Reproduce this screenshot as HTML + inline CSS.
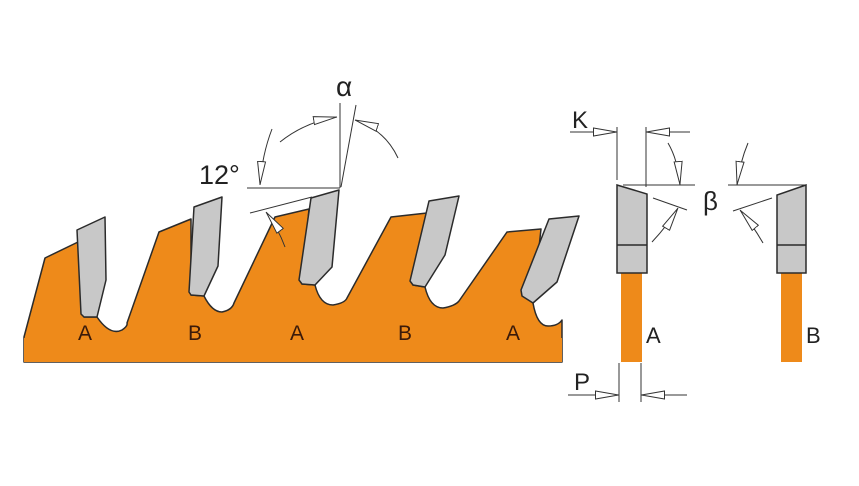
<!DOCTYPE html>
<html><head><meta charset="utf-8"><style>
html,body{margin:0;padding:0;background:#fff;}
svg{display:block;}
text{font-family:"Liberation Sans",sans-serif;}
</style></head><body>
<svg width="859" height="486" viewBox="0 0 859 486" xmlns="http://www.w3.org/2000/svg">
<defs>
<marker id="ar" markerUnits="userSpaceOnUse" viewBox="0 0 24 10" refX="24" refY="5" markerWidth="24" markerHeight="10" orient="auto">
<path d="M0.5,1 L23.5,5 L0.5,9 Z" fill="#fff" stroke="#333" stroke-width="1"/>
</marker>
</defs>
<path d="M24,362 L24,337 L45,258 L78,242
 L84,317 L97,317
 Q110,336 122,330 Q128,326 127,323
 L159,232 L191,219
 L191,295 L204,296
 Q212,312 222,312 Q232,310 234,303
 L275,217 L309,209
 L302,284 L315,285
 Q320,305 333,305 Q345,303 347,298
 L391,217 L427,213
 L413,285 L425,287
 Q430,308 443,308 Q455,306 459,301
 L507,232 L541,229
 L533,303
 Q537,326 548,326 Q558,326 562,320
 L562,362 Z" fill="#ee8a1a" stroke="#2b2b2b" stroke-width="1.5" stroke-linejoin="round"/>
<rect x="24" y="338" width="538" height="24" fill="#ee8a1a"/>
<g fill="#c8c8c8" stroke="#2b2b2b" stroke-width="1.5" stroke-linejoin="round">
<path d="M77,230 L105,217 L106,280 L97,317 L84,317 L81,314 Z"/>
<path d="M194,207 L222,197 L218,266 L204,296 L191,295 L189,292 Z"/>
<path d="M311,198 L339,190 L332,267 L315,285 L302,284 L299,280 Z"/>
<path d="M429,201 L459,196 L445,255 L425,287 L413,285 L410,281 Z"/>
<path d="M549,219 L579,216 L557,282 L533,303 L522,296 L521,290 Z"/>
</g>
<g font-size="21" fill="#3a1a0a" text-anchor="middle">
<text x="85" y="340">A</text><text x="195" y="340">B</text><text x="297" y="340">A</text><text x="405" y="340">B</text><text x="513" y="340">A</text>
</g>
<g stroke="#333" stroke-width="1" fill="none">
<line x1="340" y1="103" x2="340" y2="188"/>
<line x1="356" y1="105" x2="341" y2="187"/>
<line x1="247" y1="188" x2="340" y2="188"/>
<line x1="250" y1="213" x2="312" y2="197"/>
<path d="M272,129 Q262,155 260,185" marker-end="url(#ar)"/>
<path d="M280,142 Q305,122 337,117" marker-end="url(#ar)"/>
<path d="M398,158 Q385,130 355,120" marker-end="url(#ar)"/>
<path d="M285,247 Q278,228 266,212" marker-end="url(#ar)"/>
<line x1="570" y1="132" x2="617" y2="132" marker-end="url(#ar)"/>
<line x1="690" y1="132" x2="646" y2="132" marker-end="url(#ar)"/>
<line x1="617" y1="127" x2="617" y2="180"/>
<line x1="646" y1="127" x2="646" y2="187"/>
<line x1="623" y1="185" x2="695" y2="185"/>
<line x1="653" y1="198" x2="687" y2="210"/>
<path d="M668,143 Q678,160 680,185" marker-end="url(#ar)"/>
<path d="M652,242 Q668,225 678,208" marker-end="url(#ar)"/>
<line x1="728" y1="185" x2="806" y2="185"/>
<line x1="772" y1="198" x2="733" y2="211"/>
<path d="M748,143 Q740,162 737,185" marker-end="url(#ar)"/>
<path d="M763,243 Q752,224 740,210" marker-end="url(#ar)"/>
<line x1="568" y1="395" x2="619" y2="395" marker-end="url(#ar)"/>
<line x1="687" y1="395" x2="641" y2="395" marker-end="url(#ar)"/>
<line x1="619" y1="363" x2="619" y2="402"/>
<line x1="641" y1="363" x2="641" y2="402"/>
</g>
<rect x="621" y="273" width="21" height="89" fill="#ee8a1a"/>
<path d="M617,185 L647,194 L647,273 L617,273 Z" fill="#c8c8c8" stroke="#2b2b2b" stroke-width="1.5"/>
<line x1="617" y1="245" x2="647" y2="245" stroke="#2b2b2b" stroke-width="1.5"/>
<rect x="781" y="273" width="21" height="89" fill="#ee8a1a"/>
<path d="M806,185 L777,195 L777,273 L806,273 Z" fill="#c8c8c8" stroke="#2b2b2b" stroke-width="1.5"/>
<line x1="777" y1="245" x2="806" y2="245" stroke="#2b2b2b" stroke-width="1.5"/>
<g fill="#222">
<text x="336" y="96" font-size="28" font-family="Liberation Serif, serif">α</text>
<text x="199" y="184" font-size="27">12°</text>
<text x="572" y="128" font-size="24">K</text>
<text x="703" y="210" font-size="26" font-family="Liberation Serif, serif">β</text>
<text x="646" y="343" font-size="22">A</text>
<text x="806" y="343" font-size="22">B</text>
<text x="574" y="390" font-size="24">P</text>
</g>
</svg>
</body></html>
